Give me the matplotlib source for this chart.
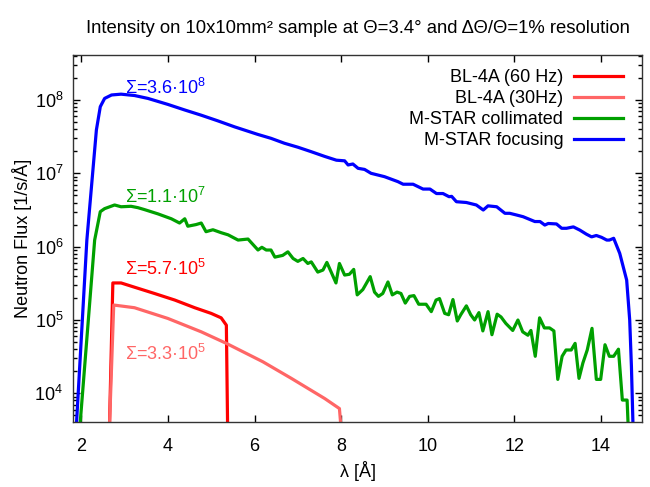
import numpy as np
import matplotlib
matplotlib.use('Agg')
import matplotlib.pyplot as plt
from matplotlib.ticker import LogLocator, NullFormatter, LogFormatterMathtext

plt.rcParams['font.family'] = ['Liberation Sans', 'DejaVu Sans']
plt.rcParams['mathtext.default'] = 'regular'

# BL-4A (60 Hz)
lam_60 = [2.63, 2.73, 2.92, 3.23, 3.69, 4.16, 4.62, 5.00, 5.23, 5.35, 5.39]
flux_60 = [1e3, 3.2e5, 3.2e5, 2.8e5, 2.3e5, 1.87e5, 1.47e5, 1.23e5, 1.07e5, 8.5e4, 1e3]

# BL-4A (30Hz)
lam_30 = [2.62, 2.75, 3.23, 4.00, 4.77, 5.35, 6.19, 6.85, 7.62, 7.96, 8.07]
flux_30 = [1e3, 1.6e5, 1.47e5, 1.05e5, 6.9e4, 4.8e4, 2.7e4, 1.6e4, 8.5e3, 6.2e3, 1e3]

# M-STAR collimated
lam_col = [1.96, 2.31, 2.44, 2.54, 2.77, 2.92, 3.15, 3.31, 3.46, 3.77, 4.08, 4.27,
           4.39, 4.46, 4.65, 4.77, 4.88, 5.04, 5.23, 5.39, 5.62, 5.85, 6.08, 6.17,
           6.27, 6.38, 6.47, 6.65, 6.77, 6.89, 7.00, 7.12, 7.23, 7.31, 7.46, 7.58,
           7.67, 7.77, 7.88, 7.96, 8.08, 8.19, 8.29, 8.37, 8.50, 8.67, 8.77, 8.86,
           8.96, 9.08, 9.18, 9.29, 9.38, 9.48, 9.58, 9.68, 9.79, 9.96, 10.08, 10.19,
           10.27, 10.39, 10.48, 10.58, 10.68, 10.76, 10.89, 10.99, 11.08, 11.18, 11.27,
           11.39, 11.48, 11.60, 11.69, 11.80, 11.96, 12.08, 12.19, 12.31, 12.38, 12.48,
           12.58, 12.69, 12.81, 12.91, 13.00, 13.10, 13.19, 13.31, 13.40, 13.49, 13.58,
           13.68, 13.79, 13.89, 13.99, 14.09, 14.19, 14.29, 14.40, 14.49, 14.60, 14.63]
flux_col = [3e3, 1.23e6, 3.0e6, 3.3e6, 3.7e6, 3.5e6, 3.55e6, 3.4e6, 3.2e6, 2.8e6, 2.4e6, 2.1e6,
            2.4e6, 1.9e6, 2.0e6, 2.1e6, 1.6e6, 1.7e6, 1.55e6, 1.45e6, 1.23e6, 1.27e6, 9.0e5, 9.8e5,
            9.0e5, 9.0e5, 7.2e5, 7.6e5, 8.5e5, 6.9e5, 6.3e5, 6.9e5, 5.9e5, 6.2e5, 4.5e5, 4.8e5,
            6.1e5, 4.5e5, 3.2e5, 5.9e5, 4.1e5, 4.2e5, 4.9e5, 2.2e5, 2.6e5, 3.9e5, 2.4e5, 2.1e5,
            2.3e5, 3.3e5, 2.2e5, 2.4e5, 2.3e5, 1.7e5, 2.1e5, 2.15e5, 1.64e5, 1.64e5, 1.3e5, 1.87e5,
            1.96e5, 1.23e5, 1.18e5, 1.9e5, 9.7e4, 1.18e5, 1.56e5, 1.18e5, 1.0e5, 1.26e5, 7.1e4,
            1.3e5, 6.3e4, 1.2e5, 1.1e5, 9.0e4, 7.2e4, 1.0e5, 6.9e4, 6.2e4, 7.2e4, 3.2e4,
            1.07e5, 7.8e4, 7.8e4, 7.1e4, 1.55e4, 3.2e4, 3.9e4, 3.9e4, 4.8e4, 1.6e4, 2.6e4,
            3.9e4, 7.7e4, 1.55e4, 1.55e4, 4.6e4, 3.2e4, 3.2e4, 4.0e4, 8.1e3, 8.1e3, 3e3]

# M-STAR focusing
lam_foc = [1.88, 2.13, 2.35, 2.44, 2.54, 2.70, 2.92, 3.23, 3.54, 4.00, 4.39, 4.77,
           5.15, 5.54, 6.07, 6.38, 6.69, 7.00, 7.31, 7.62, 7.89, 8.08, 8.16, 8.27,
           8.39, 8.54, 8.69, 9.00, 9.31, 9.43, 9.66, 9.89, 10.05, 10.20, 10.35, 10.49,
           10.55, 10.66, 10.89, 11.12, 11.28, 11.39, 11.59, 11.78, 11.89, 12.05, 12.20,
           12.47, 12.59, 12.70, 12.78, 12.97, 13.09, 13.20, 13.36, 13.51, 13.66, 13.78,
           13.89, 14.01, 14.13, 14.19, 14.29, 14.43, 14.59, 14.66, 14.70, 14.74]
flux_foc = [3e3, 1.23e6, 3.9e7, 8.1e7, 1.05e8, 1.17e8, 1.2e8, 1.15e8, 1.05e8, 8.7e7, 7.3e7, 6.2e7,
            5.2e7, 4.3e7, 3.4e7, 3.0e7, 2.57e7, 2.27e7, 1.97e7, 1.7e7, 1.51e7, 1.48e7, 1.3e7, 1.34e7,
            1.17e7, 1.13e7, 1.0e7, 9.0e6, 7.7e6, 7.1e6, 7.1e6, 6.1e6, 6.1e6, 5.3e6, 5.3e6, 4.8e6,
            4.85e6, 4.1e6, 4.0e6, 3.7e6, 3.16e6, 3.6e6, 3.5e6, 2.85e6, 2.85e6, 2.7e6, 2.56e6,
            2.2e6, 2.2e6, 1.97e6, 2.07e6, 2.04e6, 1.78e6, 1.78e6, 1.86e6, 1.68e6, 1.48e6, 1.36e6,
            1.42e6, 1.34e6, 1.23e6, 1.23e6, 1.3e6, 8.1e5, 3.5e5, 1.0e5, 2.3e4, 3e3]

fs = 13
fig = plt.figure(figsize=(6.5, 4.87), dpi=100)
ax = fig.add_axes([0.1123, 0.134, 0.8758, 0.753])

lw = 2.3
ax.plot(lam_60, flux_60, color='#ff0000', lw=lw, label='BL-4A (60 Hz)')
ax.plot(lam_30, flux_30, color='#ff6666', lw=lw, label='BL-4A (30Hz)')
ax.plot(lam_col, flux_col, color='#00a000', lw=lw, label='M-STAR collimated')
ax.plot(lam_foc, flux_foc, color='#0000ff', lw=lw, label='M-STAR focusing')

ax.set_yscale('log')
ax.set_xlim(1.81, 14.95)
ax.set_ylim(4.1e3, 4.1e8)
ax.set_xticks([2, 4, 6, 8, 10, 12, 14])
ax.yaxis.set_major_locator(LogLocator(base=10, numticks=10))
ax.yaxis.set_major_formatter(LogFormatterMathtext())
ax.yaxis.set_minor_locator(LogLocator(base=10, subs=np.arange(2, 10), numticks=20))
ax.yaxis.set_minor_formatter(NullFormatter())
ax.tick_params(which='both', direction='in', top=True, right=True, labelsize=fs)
ax.tick_params(which='major', length=5.3, width=1)
ax.tick_params(which='minor', length=3, width=1)
ax.tick_params(axis='x', pad=12)
ax.tick_params(axis='y', pad=7)
for s in ax.spines.values():
    s.set_linewidth(1)
    s.set_color('#333333')

# sums
ax.text(3.0, 1.21e8, 'Σ=3.6·10$^{8}$', color='#0000ff', fontsize=fs, va='baseline')
ax.text(3.0, 4.0e6, 'Σ=1.1·10$^{7}$', color='#00a000', fontsize=fs, va='baseline')
ax.text(3.02, 4.1e5, 'Σ=5.7·10$^{5}$', color='#ff0000', fontsize=fs, va='baseline')
ax.text(3.0, 2.84e4, 'Σ=3.3·10$^{5}$', color='#ff6666', fontsize=fs, va='baseline')

ax.set_xlabel('λ [Å]', fontsize=fs, labelpad=4)
ax.set_ylabel('Neutron Flux [1/s/Å]', fontsize=fs, labelpad=2)
ax.set_title('Intensity on 10x10mm² sample at Θ=3.4° and ΔΘ/Θ=1% resolution',
             fontsize=13.3, pad=16)

leg = ax.legend(loc='upper right', bbox_to_anchor=(0.966, 0.962), frameon=False,
                markerfirst=False, fontsize=fs, handlelength=2.7, handletextpad=0.6,
                labelspacing=0.22, borderpad=0, borderaxespad=0)
# right-align legend rows (text before line, like gnuplot)
for col in leg._legend_handle_box.get_children():
    col.align = 'right'

fig.savefig('out.png', dpi=100)
